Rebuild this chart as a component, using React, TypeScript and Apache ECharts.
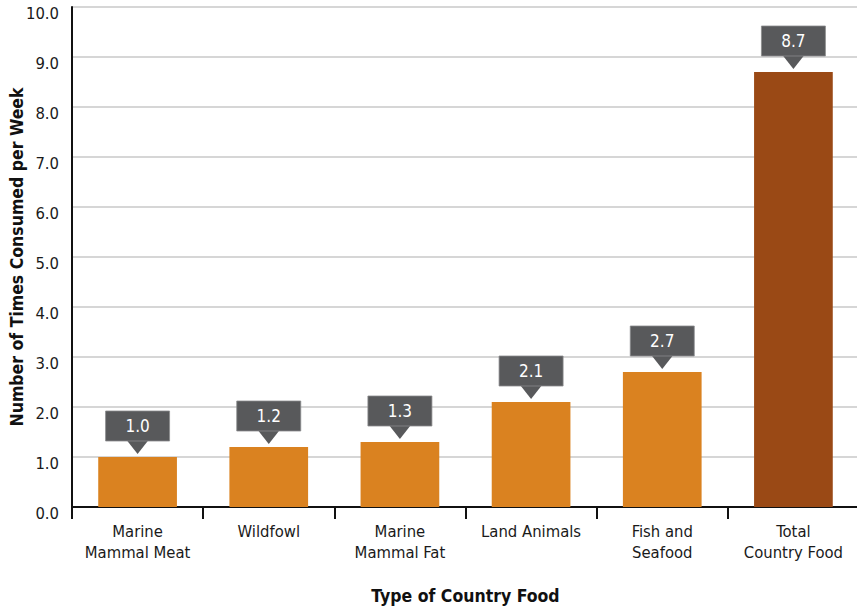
import React, { useEffect, useRef } from "react";
import * as echarts from "echarts";

const categories = [
  "Marine\nMammal Meat",
  "Wildfowl",
  "Marine\nMammal Fat",
  "Land Animals",
  "Fish and\nSeafood",
  "Total\nCountry Food",
];
const values = [1.0, 1.2, 1.3, 2.1, 2.7, 8.7];
const barColors = ["#DA8220", "#DA8220", "#DA8220", "#DA8220", "#DA8220", "#9A4915"];
const yTicks = { min: 0, max: 10, interval: 1 };

const FONT = "'Liberation Sans Narrow', 'DejaVu Sans Condensed', 'Open Sans', sans-serif";

export default function App() {
  const ref = useRef<HTMLDivElement>(null);
  useEffect(() => {
    if (!ref.current) return;
    const chart = echarts.init(ref.current, undefined, { renderer: "svg" });
    chart.setOption({
      animation: false,
      grid: {
        left: 72,
        top: 7,
        width: 787,
        bottom: 104,
        containLabel: false,
        outerBoundsMode: "none",
      },
      xAxis: {
        type: "category",
        data: categories,
        boundaryGap: true,
        axisLine: { show: true, lineStyle: { color: "#111", width: 2 } },
        axisTick: { show: true, interval: 0, length: 12, lineStyle: { color: "#111", width: 2 } },
        axisLabel: {
          interval: 0,
          margin: 14,
          fontFamily: FONT,
          fontSize: 16.5,
          lineHeight: 21,
          color: "#1a1a1a",
        },
        name: "Type of Country Food",
        nameLocation: "middle",
        nameGap: 80,
        nameMoveOverlap: false,
        nameTextStyle: { fontFamily: FONT, fontSize: 17.5, fontWeight: "bold", color: "#111" },
      },
      yAxis: {
        type: "value",
        min: yTicks.min,
        max: yTicks.max,
        interval: yTicks.interval,
        axisLine: { show: true, lineStyle: { color: "#111", width: 2 } },
        axisTick: { show: false },
        splitLine: { show: true, lineStyle: { color: "#C8C8C8", width: 1.5 } },
        axisLabel: {
          margin: 13,
          fontFamily: FONT,
          fontSize: 16.5,
          color: "#1a1a1a",
          verticalAlign: "top",
          lineHeight: 12,
          formatter: (v: number) => v.toFixed(1),
        },
        name: "Number of Times Consumed per Week",
        nameLocation: "middle",
        nameGap: 46,
        nameMoveOverlap: false,
        nameRotate: 90,
        nameTextStyle: { fontFamily: FONT, fontSize: 17.5, fontWeight: "bold", color: "#111" },
      },
      series: [
        {
          type: "bar",
          barWidth: "60%",
          data: values.map((v, i) => ({ value: v, itemStyle: { color: barColors[i] } })),
        },
        {
          type: "custom",
          data: values.map((v, i) => [i, v]),
          z: 10,
          renderItem: (params: any, api: any) => {
            const pt = api.coord([api.value(0), api.value(1)]);
            const x = pt[0];
            const tip = pt[1] - 3;
            const triH = 13;
            const triW = 22;
            const boxH = 30;
            const boxW = 64;
            const boxBottom = tip - triH;
            return {
              type: "group",
              children: [
                {
                  type: "polygon",
                  shape: {
                    points: [
                      [x - triW / 2, boxBottom - 1],
                      [x + triW / 2, boxBottom - 1],
                      [x, tip],
                    ],
                  },
                  style: { fill: "#58595B" },
                },
                {
                  type: "rect",
                  shape: { x: x - boxW / 2, y: boxBottom - boxH, width: boxW, height: boxH },
                  style: { fill: "#58595B", stroke: "#8a8b8d", lineWidth: 0.8 },
                },
                {
                  type: "text",
                  style: {
                    text: api.value(1).toFixed(1),
                    x: x,
                    y: boxBottom - boxH / 2,
                    align: "center",
                    verticalAlign: "middle",
                    fill: "#ffffff",
                    font: `17px ${FONT}`,
                  },
                },
              ],
            };
          },
        },
      ],
    });
    return () => chart.dispose();
  }, []);
  return (
    <div
      ref={ref}
      style={{ position: "fixed", left: 0, top: 0, width: 857, height: 611, background: "#fff" }}
    />
  );
}
